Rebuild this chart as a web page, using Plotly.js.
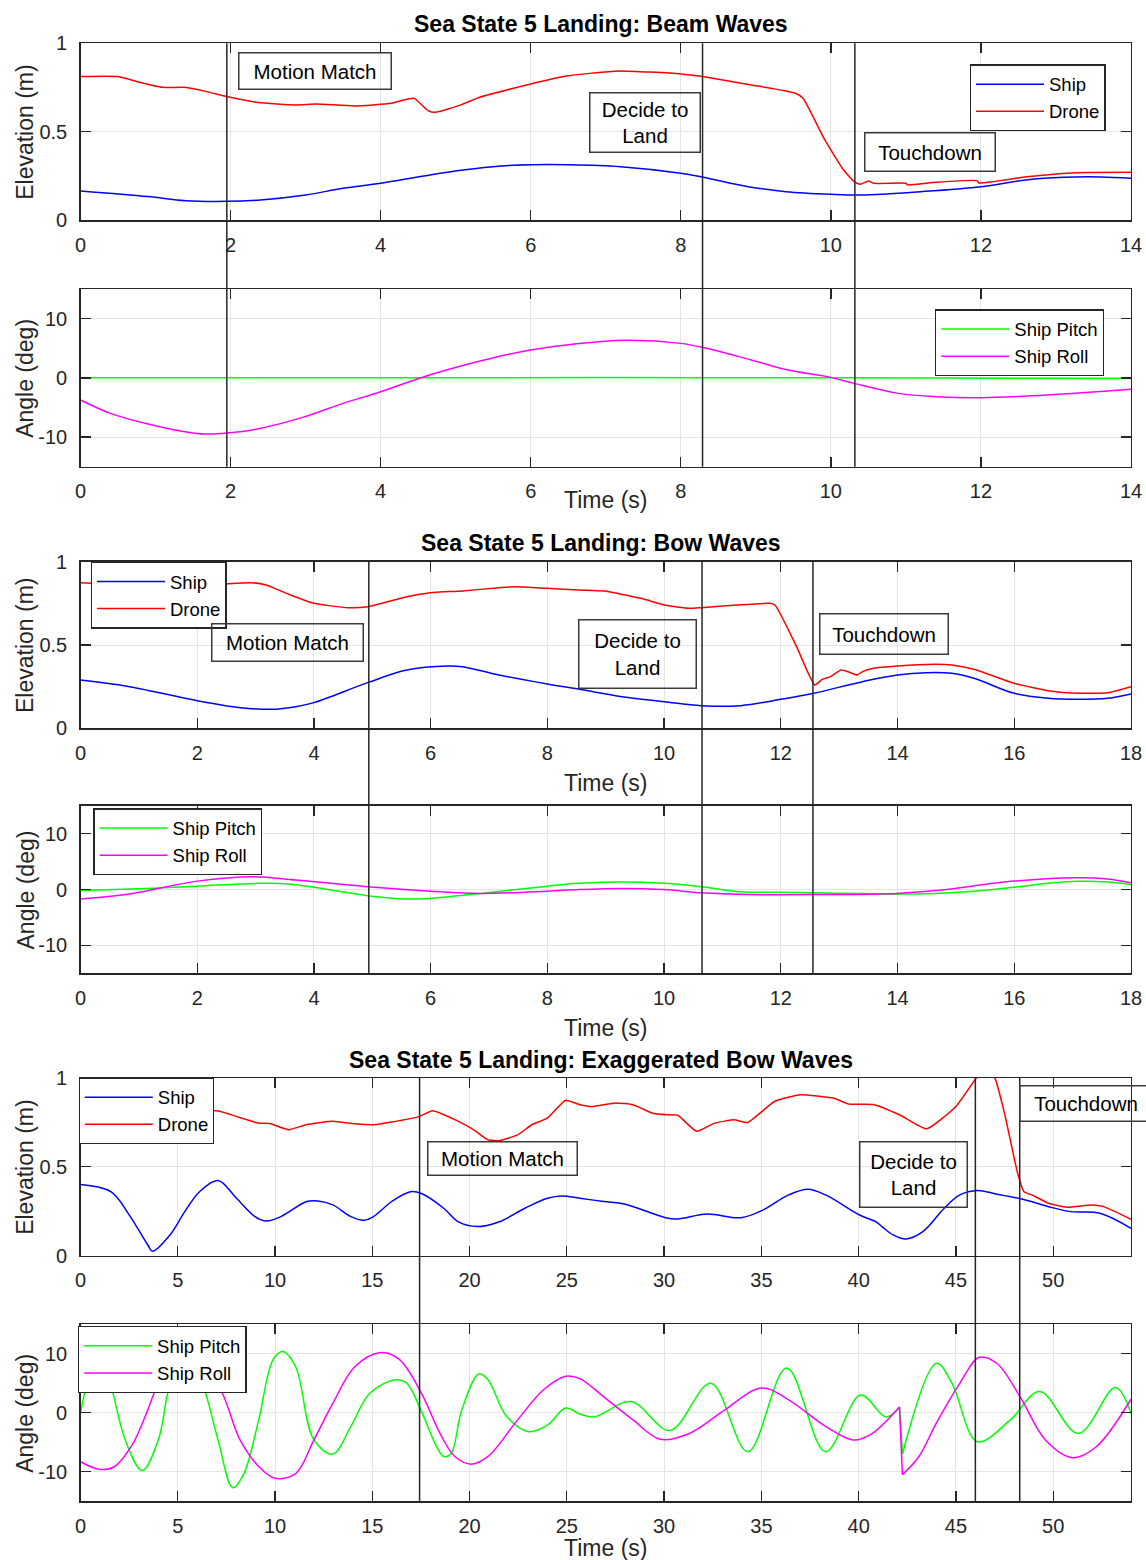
<!DOCTYPE html>
<html><head><meta charset="utf-8">
<script src="https://cdn.plot.ly/plotly-3.0.1.min.js"></script>
<style>html,body{margin:0;padding:0;background:#fff}#chart{width:1146px;height:1560px}</style>
</head><body><div id="chart"></div>
<script>
// ---------------- DATA ----------------
// Beam waves (t in s)
const beamShipT = [0,0.9,1.4,1.95,2.4,3.0,3.5,4.0,4.6,5.1,5.6,6.0,6.5,7.2,8.0,8.3,8.9,9.4,10.0,10.4,11.2,12.0,12.6,13.1,13.6,14.0];
const beamShipZ = [0.166,0.134,0.111,0.107,0.115,0.143,0.181,0.209,0.252,0.284,0.307,0.314,0.314,0.303,0.266,0.243,0.19,0.162,0.147,0.143,0.162,0.19,0.228,0.243,0.245,0.237];
const beamDroneT = [0,0.5,0.8,1.09,1.39,1.68,1.95,2.37,2.86,3.15,3.65,4.14,4.38,4.45,4.63,4.73,5.07,5.32,6.0,6.47,7.17,8.0,8.29,8.94,9.53,9.63,9.92,10.17,10.31,10.39,10.5,10.57,11.0,11.02,11.4,11.95,11.97,12.64,13.28,14.0];
const beamDroneZ = [0.812,0.812,0.778,0.751,0.751,0.727,0.699,0.665,0.652,0.657,0.646,0.661,0.687,0.689,0.62,0.61,0.652,0.695,0.77,0.815,0.844,0.827,0.812,0.765,0.718,0.689,0.454,0.284,0.218,0.203,0.222,0.209,0.209,0.2,0.215,0.224,0.211,0.247,0.269,0.271];
const beamPitchT = [0,3.2,7.0,10.0,14.0];
const beamPitch = [0,0,0.05,0,-0.1];
const beamRollT = [0,0.4,0.9,1.39,1.68,1.95,2.37,2.96,3.5,4.0,4.58,5.07,5.56,6.0,6.47,7.27,8.0,8.29,8.94,9.43,10.0,10.31,10.9,11.4,12.0,12.89,14.0];
const beamRoll = [-3.74,-6.0,-7.8,-9.09,-9.49,-9.32,-8.59,-6.67,-4.31,-2.34,0.2,2.0,3.57,4.7,5.54,6.33,5.82,5.15,3.01,1.32,0.08,-0.93,-2.62,-3.18,-3.35,-2.9,-1.94];
const beamEvents = [1.95,8.29,10.32];

// Bow waves
const bowShipT = [0,0.84,2.0,2.74,3.28,3.69,4.0,4.92,5.59,6.29,6.54,7.17,8.0,8.55,9.28,10.0,10.64,11.31,12.0,12.56,13.4,14.0,14.49,14.93,15.31,16.0,16.58,17.09,17.6,18.0];
const bowShipZ = [0.29,0.25,0.166,0.124,0.114,0.13,0.154,0.274,0.35,0.374,0.37,0.32,0.266,0.234,0.19,0.16,0.136,0.136,0.174,0.21,0.28,0.32,0.334,0.33,0.30,0.21,0.18,0.174,0.18,0.206];
const bowDroneT = [0,0.52,1.98,2.42,2.93,3.18,3.56,4.0,4.58,4.92,5.59,6.0,6.54,7.17,7.49,8.0,8.55,8.97,9.6,10.0,10.43,10.64,11.25,11.8,11.9,12.27,12.58,12.71,12.85,13.03,13.15,13.31,13.4,13.59,14.0,14.64,14.93,15.31,16.0,16.58,17.09,17.6,18.0];
const bowDroneZ = [0.874,0.866,0.86,0.866,0.874,0.86,0.806,0.75,0.724,0.73,0.79,0.814,0.824,0.844,0.85,0.84,0.83,0.824,0.78,0.74,0.72,0.724,0.74,0.75,0.74,0.49,0.26,0.294,0.31,0.35,0.34,0.32,0.34,0.36,0.374,0.384,0.38,0.354,0.27,0.226,0.21,0.214,0.25];
const bowPitchT = [0,1.15,2.0,3.05,3.56,4.0,4.92,5.59,5.97,6.86,8.0,8.55,9.28,10.0,10.64,11.31,12.0,12.56,13.4,14.0,14.64,15.31,16.0,16.58,17.09,17.6,18.0];
const bowPitch = [-0.2,0.2,0.6,1.1,1.0,0.4,-1.1,-1.7,-1.6,-0.7,0.6,1.1,1.34,1.1,0.5,-0.4,-0.5,-0.6,-0.7,-0.8,-0.7,-0.3,0.4,1.1,1.46,1.34,0.9];
const bowRollT = [0,0.84,2.0,2.93,3.69,4.92,6.0,6.86,8.0,8.55,9.28,10.0,10.64,11.5,12.56,14.0,14.64,16.0,17.0,17.6,18.0];
const bowRoll = [-1.7,-0.8,1.5,2.3,1.7,0.5,-0.3,-0.7,-0.3,0.0,0.2,0.0,-0.6,-0.9,-0.9,-0.7,-0.2,1.5,2.1,1.9,1.2];
const bowEvents = [4.94,10.65,12.55];

// Exaggerated bow waves
const exShipT = [0,1.56,2.5,3.46,3.7,4.6,5.36,6.12,7.07,8.02,8.97,9.54,10.3,11.63,12.2,12.97,13.9,14.58,15.06,16.0,16.96,17.53,18.67,19.43,20.38,21.5,22.85,24.0,24.75,25.67,26.9,28.0,30.07,30.7,32.2,33.95,35.1,36.4,37.4,38.3,40.05,40.9,41.2,41.77,42.44,43.3,44.4,45.2,46.1,47.1,48.34,49.77,50.9,52.4,54.0];
const exShipZ = [0.40,0.36,0.23,0.06,0.025,0.117,0.248,0.36,0.423,0.323,0.22,0.195,0.22,0.305,0.308,0.286,0.22,0.2,0.22,0.305,0.36,0.35,0.267,0.19,0.164,0.19,0.267,0.323,0.336,0.323,0.305,0.29,0.214,0.207,0.235,0.214,0.258,0.342,0.374,0.342,0.229,0.19,0.164,0.117,0.094,0.135,0.267,0.342,0.367,0.346,0.32,0.276,0.248,0.239,0.154];
const exDroneT = [0,3.5,7.2,8.0,9.16,9.73,10.7,11.6,12.97,14.1,15.06,16.0,17.43,18.1,19.43,20.2,20.95,21.5,22.47,23.2,24.0,24.94,25.67,26.3,27.5,28.4,29.4,30.15,30.7,31.67,32.6,33.6,34.3,35.67,37.0,38.7,39.5,40.8,42.1,43.5,45.0,46.05,46.5,47.0,47.5,48.15,48.5,48.9,49.77,50.7,52.0,52.6,54.0];
const exDroneZ = [0.85,0.83,0.812,0.784,0.746,0.744,0.709,0.737,0.756,0.742,0.737,0.752,0.784,0.816,0.756,0.709,0.652,0.647,0.68,0.737,0.774,0.875,0.85,0.84,0.86,0.85,0.802,0.793,0.79,0.70,0.746,0.765,0.75,0.868,0.906,0.887,0.853,0.85,0.793,0.714,0.84,1.0,1.05,1.0,0.8,0.474,0.36,0.342,0.295,0.273,0.286,0.276,0.205];
const exPitchT = [0,0.32,0.95,1.56,2.3,3.17,4.0,4.6,5.5,6.3,7.07,7.83,8.4,9.16,9.9,10.4,11.06,12.0,12.97,13.9,14.87,16.2,16.77,17.53,18.3,18.67,19.05,19.6,20.48,20.95,21.9,23.04,24.0,24.94,25.67,26.4,28.3,30.3,32.4,34.3,36.3,38.3,40.1,41.4,42.1,42.25,44.0,44.8,46.1,47.8,49.3,51.3,53.2,54.0];
const exPitch = [0,4.7,10.5,4.7,-4.6,-9.8,-4.6,4.7,10.5,4.7,-4.6,-12.7,-10.3,-1.2,9.0,10.4,7.8,-4.6,-7.0,-2.3,3.3,5.6,5.0,0.2,-5.7,-7.4,-6.9,0.5,6.6,5.6,-0.6,-3.2,-2.1,0.8,-0.2,-0.7,1.9,-3.0,5.0,-6.6,7.6,-6.6,3.0,-0.7,0.9,-7.0,8.4,5.0,-4.9,-1.2,3.6,-3.5,4.3,-0.1];
const exRollT = [0,1.0,1.75,2.7,3.46,4.0,5.5,7.07,8.2,9.16,10.0,11.06,12.0,12.97,14.1,15.44,16.4,17.53,18.48,19.24,20.1,20.95,22.47,23.8,24.94,25.67,26.9,28.4,29.8,31.3,33.0,35.0,36.4,38.3,39.7,40.6,42.1,42.25,43.1,44.0,45.2,46.2,47.1,48.3,49.6,51.0,52.2,54.0];
const exRoll = [-8.3,-9.6,-9.1,-5.2,0.5,4.7,9.6,4.7,-4.6,-9.1,-11.1,-10.3,-4.6,1.6,7.8,10.2,9.0,3.3,-3.5,-7.4,-8.7,-7.4,-1.2,3.9,6.2,5.8,2.7,-1.2,-4.5,-3.5,0.2,4.2,2.2,-2.3,-4.6,-3.7,1.0,-10.5,-7.4,-1.7,5.0,9.4,8.4,2.7,-4.6,-7.6,-5.8,2.3];
const exJumpT = 42.2;   // attitude reset instant
const exEvents = [17.43,46.0,48.28];

// Tick labels / text
const beamTicks = [0,2,4,6,8,10,12,14];
const bowTicks = [0,2,4,6,8,10,12,14,16,18];
const exTicks = [0,5,10,15,20,25,30,35,40,45,50];
const elevTicks = [0,0.5,1];
const elevTickText = ['0','0.5','1'];
const angleTicks = [-10,0,10];
const angleTickText = ['-10','0','10'];
const titles = ['Sea State 5 Landing: Beam Waves','Sea State 5 Landing: Bow Waves','Sea State 5 Landing: Exaggerated Bow Waves'];
const eventLabels = ['Motion Match','Decide to<br>Land','Touchdown'];

// ---------------- LAYOUT ----------------
const W = 1146, H = 1560;
const px = v => v / W, py = v => 1 - v / H;
const FONT = 'Liberation Sans, Arial, sans-serif';
const AXC = '#262626';
const COL = {ship:'#0000ff', drone:'#ff0000', pitch:'#00ff00', roll:'#ff00ff'};

const panels = [
  {top:43.3, bottom:220.3, range:[0,14], ticks:beamTicks, kind:'elev'},
  {top:289.0, bottom:466.7, range:[0,14], ticks:beamTicks, kind:'ang'},
  {top:561.7, bottom:728.3, range:[0,18], ticks:bowTicks, kind:'elev'},
  {top:805.7, bottom:973.3, range:[0,18], ticks:bowTicks, kind:'ang'},
  {top:1078.0, bottom:1255.7, range:[0,54], ticks:exTicks, kind:'elev'},
  {top:1324.3, bottom:1501.3, range:[0,54], ticks:exTicks, kind:'ang'}
];
const sfx = i => (i === 1 ? '' : String(i));

const base = {
  showline:true, linecolor:AXC, linewidth:1.3, mirror:'ticks',
  ticks:'inside', ticklen:10, tickwidth:1.3, tickcolor:AXC,
  showgrid:true, gridcolor:'#e4e4e4', gridwidth:1, zeroline:false,
  tickfont:{family:FONT, size:20, color:AXC}, fixedrange:true
};

const layout = {
  width:W, height:H, margin:{l:0,r:0,t:0,b:0},
  paper_bgcolor:'#fff', plot_bgcolor:'#fff',
  font:{family:FONT, color:AXC}, showlegend:true,
  annotations:[], shapes:[]
};

panels.forEach((p, k) => {
  const i = k + 1;
  layout['xaxis' + sfx(i)] = Object.assign({}, base, {
    domain:[px(80.5), px(1131)], range:p.range, tickvals:p.ticks,
    anchor:'y' + sfx(i), ticklabelstandoff:6
  });
  const yax = Object.assign({}, base, {
    domain:[py(p.bottom), py(p.top)], anchor:'x' + sfx(i), ticklabelstandoff:8
  });
  if (p.kind === 'elev') { yax.range = [0,1]; yax.tickvals = elevTicks; yax.ticktext = elevTickText; }
  else { yax.range = [-15,15]; yax.tickvals = angleTicks; yax.ticktext = angleTickText; }
  layout['yaxis' + sfx(i)] = yax;
});

// legends
const legendPos = [[969.7,64.3],[935,309.3],[90.7,561.7],[93.3,808.3],[78.5,1077.3],[77.8,1326]];
legendPos.forEach((q, k) => {
  layout['legend' + sfx(k + 1)] = {
    x:px(q[0]), y:py(q[1]), xanchor:'left', yanchor:'top',
    bgcolor:'#ffffff', bordercolor:AXC, borderwidth:1.3,
    font:{family:FONT, size:18.5, color:'#000'}, itemwidth:68, tracegroupgap:0,
    traceorder:'normal'
  };
});

// traces
const data = [];
function addLine(t, v, name, color, panel, shape, showlegend, smooth) {
  data.push({
    type:'scatter', mode:'lines', x:t, y:v, name:name,
    line:{color:color, width:1.5, shape:shape || 'linear', smoothing:smooth || 1},
    xaxis:'x' + sfx(panel), yaxis:'y' + sfx(panel), legend:'legend' + sfx(panel),
    legendgroup:name + panel, showlegend:showlegend !== false, hoverinfo:'skip'
  });
}
function addSplit(t, v, name, color, panel, jumpT) {
  const a = t.map((x, j) => j).filter(j => t[j] < jumpT);
  const b = t.map((x, j) => j).filter(j => t[j] > jumpT);
  addLine(a.map(j => t[j]), a.map(j => v[j]), name, color, panel, 'spline', true);
  addLine(b.map(j => t[j]), b.map(j => v[j]), name, color, panel, 'spline', false);
  const ja = a[a.length - 1], jb = b[0];
  addLine([t[ja], t[jb]], [v[ja], v[jb]], name, color, panel, 'linear', false);
}

addLine(beamShipT, beamShipZ, 'Ship', COL.ship, 1, 'spline');
addLine(beamDroneT, beamDroneZ, 'Drone', COL.drone, 1, 'spline', true, 0.45);
addLine(beamPitchT, beamPitch, 'Ship Pitch', COL.pitch, 2, 'spline');
addLine(beamRollT, beamRoll, 'Ship Roll', COL.roll, 2, 'spline');
addLine(bowShipT, bowShipZ, 'Ship', COL.ship, 3, 'spline');
addLine(bowDroneT, bowDroneZ, 'Drone', COL.drone, 3, 'spline', true, 0.45);
addLine(bowPitchT, bowPitch, 'Ship Pitch', COL.pitch, 4, 'spline');
addLine(bowRollT, bowRoll, 'Ship Roll', COL.roll, 4, 'spline');
addLine(exShipT, exShipZ, 'Ship', COL.ship, 5, 'spline');
addLine(exDroneT, exDroneZ, 'Drone', COL.drone, 5, 'spline', true, 0.45);
addSplit(exPitchT, exPitch, 'Ship Pitch', COL.pitch, 6, exJumpT);
addSplit(exRollT, exRoll, 'Ship Roll', COL.roll, 6, exJumpT);

// event lines spanning elevation + angle panels
[[beamEvents,1,0,1],[bowEvents,3,2,3],[exEvents,5,4,5]].forEach(([ev, ax, pTop, pBot]) => {
  ev.forEach(t => layout.shapes.push({
    type:'line', xref:'x' + sfx(ax), yref:'paper', x0:t, x1:t,
    y0:py(panels[pBot].bottom), y1:py(panels[pTop].top),
    line:{color:AXC, width:1.5}, layer:'above'
  }));
});

// event text boxes (centre x, centre y, width, height) in px
const boxes = [
  [314.5,71.5,153,37],[644.5,123,111,60],[929.5,152.5,131,39],
  [287,642.5,152,38],[637,653.5,118,69],[884,633.5,129,41],
  [503,1158.7,150,34],[913,1174.5,108,66],[1086,1103,133,36]
];
boxes.forEach((b, k) => layout.annotations.push({
  xref:'paper', yref:'paper', x:px(b[0]), y:py(b[1]), xanchor:'center', yanchor:'middle',
  text:eventLabels[k % 3], showarrow:false, width:b[2] - 2, height:b[3] - 2, borderpad:0,
  bordercolor:'#3a3a3a', borderwidth:1.5, bgcolor:'rgba(0,0,0,0)',
  font:{family:FONT, size:20.5, color:'#000'}
}));

// titles
[[24,0],[542.5,1],[1060,2]].forEach(([y, k]) => layout.annotations.push({
  xref:'paper', yref:'paper', x:px(601), y:py(y), xanchor:'center', yanchor:'middle',
  text:'<b>' + titles[k] + '</b>', showarrow:false,
  font:{family:FONT, size:23, color:'#000'}
}));
// axis titles
panels.forEach((p, k) => layout.annotations.push({
  xref:'paper', yref:'paper', x:px(25), y:py((p.top + p.bottom) / 2 + 1), xanchor:'center', yanchor:'middle',
  text:p.kind === 'elev' ? 'Elevation (m)' : 'Angle (deg)', textangle:-90, showarrow:false,
  font:{family:FONT, size:23, color:AXC}
}));
[[605,500],[605,783],[605,1028],[605,1547.5]].forEach(q => layout.annotations.push({
  xref:'paper', yref:'paper', x:px(q[0]), y:py(q[1]), xanchor:'center', yanchor:'middle',
  text:'Time (s)', showarrow:false, font:{family:FONT, size:23, color:AXC}
}));

Plotly.newPlot('chart', data, layout, {staticPlot:true, displayModeBar:false});
</script></body></html>
